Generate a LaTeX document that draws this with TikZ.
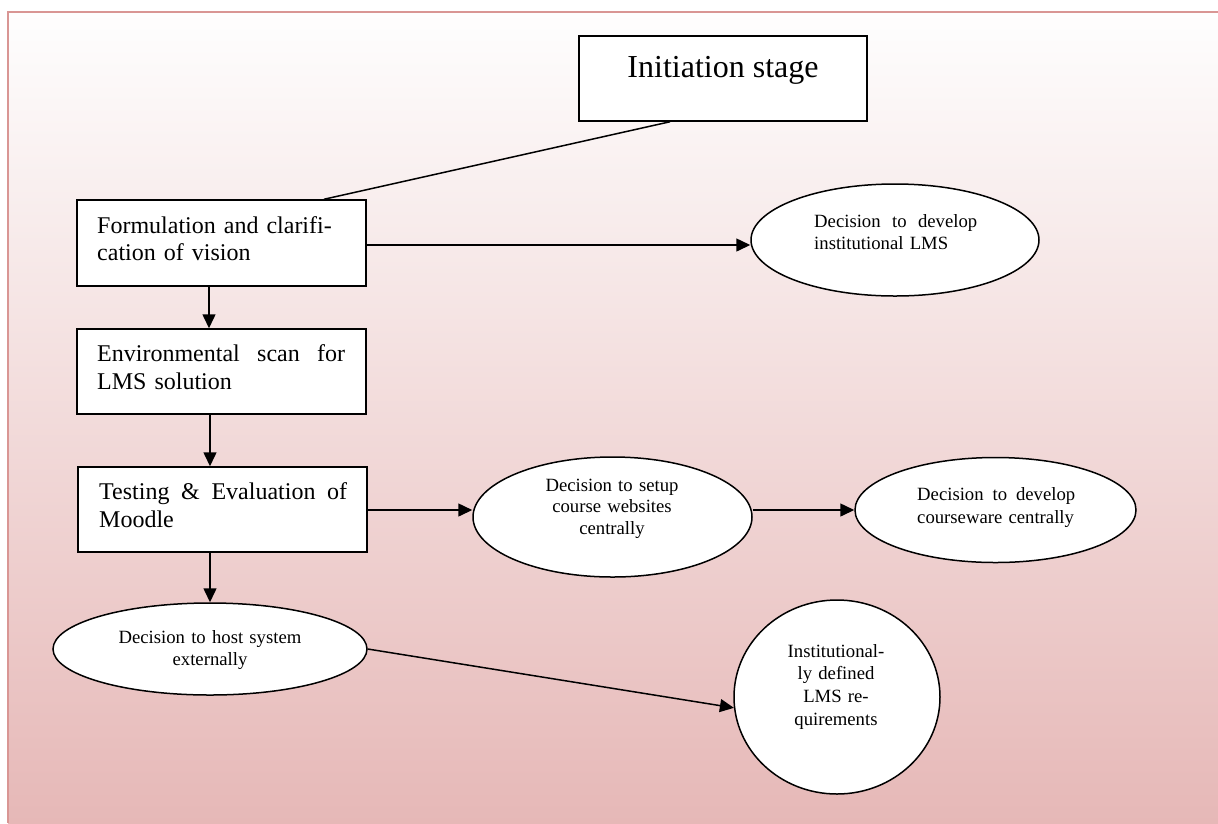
\documentclass[tikz,border=0pt]{standalone}
\usepackage{fontspec}
\setmainfont{Liberation Serif}
\usetikzlibrary{shapes.geometric,arrows.meta,calc}
\definecolor{bgbot}{RGB}{230,184,183}
\definecolor{bgtop}{RGB}{254,254,254}
\definecolor{framecol}{RGB}{217,150,148}
\begin{document}
\begin{tikzpicture}[x=1pt,y=-1pt,
  boxshape/.style={draw=black,line width=1.5pt,fill=white,rectangle,inner sep=0pt},
  ellshape/.style={draw=black,line width=1.5pt,fill=white,ellipse,inner sep=0pt},
  boxtext/.style={inner sep=0pt,align=left,font=\fontsize{24}{28}\selectfont},
  elltext/.style={inner sep=0pt,font=\fontsize{18.7}{22}\selectfont},
  link/.style={line width=1.5pt,draw=black},
  arrowlink/.style={link,-{Triangle[length=14pt,width=13pt]}},
]
\useasboundingbox (0,0) rectangle (1218,823);
\shade[top color=bgtop,bottom color=bgbot] (8,12) rectangle (1218,823);
\draw[framecol,line width=2pt] (8,823) -- (8,12) -- (1218,12);

% boxes
\node[boxshape,minimum width=288pt,minimum height=85pt] (init) at (723,78.5) {};
\node[boxshape,minimum width=289pt,minimum height=86pt] (form) at (221.5,243) {};
\node[boxshape,minimum width=289pt,minimum height=85pt] (env) at (221.5,371.5) {};
\node[boxshape,minimum width=289pt,minimum height=85pt] (test) at (222.5,509.5) {};

% ellipses
\node[ellshape,minimum width=288pt,minimum height=112pt] (inst) at (895,240) {};
\node[ellshape,minimum width=279pt,minimum height=120pt] (setup) at (612.5,517) {};
\node[ellshape,minimum width=281pt,minimum height=105pt] (course) at (995.5,510) {};
\node[ellshape,minimum width=314pt,minimum height=92pt] (host) at (210,649) {};
\node[ellshape,minimum width=206pt,minimum height=194pt] (lms) at (837,697) {};

% connectors
\draw[link] ([xshift=-53pt]init.south) -- ([xshift=102.5pt]form.north);
\draw[arrowlink] ([yshift=-2pt]form.east) -- ([yshift=-2pt]form.east -| inst.west);
\draw[arrowlink] ([xshift=-12.5pt]form.south) -- ([xshift=-12.5pt]env.north);
\draw[arrowlink] ([xshift=-11.5pt]env.south) -- ([xshift=-12.5pt]test.north);
\draw[arrowlink] ([yshift=-0.5pt]test.east) -- ([yshift=-0.5pt]test.east -| setup.west);
\draw[arrowlink] (setup.east |- course.west) -- (course.west);
\draw[arrowlink] (test.south -| host.north) -- (host.north);
\draw[arrowlink] (host.east) -- (lms.186);

% texts
\node[boxtext,font=\fontsize{32}{36}\selectfont,anchor=base] (tinit) at (723,77) {Initiation stage};
\node[boxtext,text width=250pt,anchor=base west,font=\fontsize{24}{27}\selectfont] (tform) at (97,233) {Formulation and clarifi-\\cation of vision};
\node[boxtext,text width=248pt,anchor=base west] (tenv) at (97,361) {Environmental\hfill scan\hfill for\\LMS solution};
\node[boxtext,text width=248pt,anchor=base west] (ttest) at (99,499) {Testing\hfill\&\hfill Evaluation\hfill of\\Moodle};
\node[elltext,text width=163pt,align=left,anchor=base west] (tinst) at (814,227) {Decision\hfill to\hfill develop\\institutional LMS};
\node[elltext,text width=200pt,align=center,anchor=base,font=\fontsize{18.7}{21.5}\selectfont] (tsetup) at (612,491) {Decision to setup\\course websites\\centrally};
\node[elltext,text width=158pt,align=left,anchor=base west,font=\fontsize{18.7}{23}\selectfont] (tcourse) at (917,500) {Decision\hfill to\hfill develop\\\mbox{courseware centrally}};
\node[elltext,text width=250pt,align=center,anchor=base] (thost) at (210,643) {Decision to host system\\externally};
\node[elltext,text width=150pt,align=center,anchor=base,font=\fontsize{18.7}{22.7}\selectfont] (tlms) at (836,657) {Institutional-\\ly defined\\LMS re-\\quirements};
\end{tikzpicture}
\end{document}
